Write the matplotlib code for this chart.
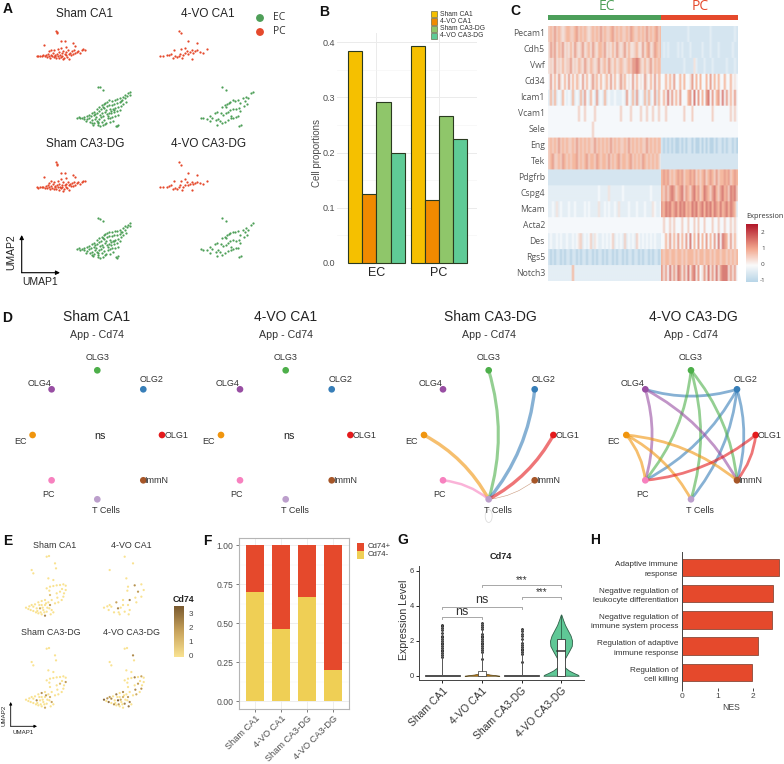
import numpy as np
import matplotlib
matplotlib.use("Agg")
import matplotlib.pyplot as plt
from matplotlib.patches import FancyArrowPatch, Rectangle, Ellipse
from matplotlib.colors import LinearSegmentedColormap

W, H = 784, 764
plt.rcParams["font.family"] = ["Liberation Sans", "DejaVu Sans"]

groups = ["Sham CA1", "4-VO CA1", "Sham CA3-DG", "4-VO CA3-DG"]
red = "#E5492C"
green = "#4C9F5A"
gray_txt = "#4D4D4D"

# A: UMAP points
ec_x = [23.2,23.7,23.9,24.5,25.2,25.3,26.0,26.2,25.9,26.8,26.7,27.0,27.5,27.4,27.7,27.6,28.2,28.1,28.4,28.3,28.0,
        29.0,29.2,28.9,29.1,29.3,29.7,29.6,29.9,29.8,29.5,30.0,30.5,30.4,30.7,30.3,30.6,30.8,31.2,31.1,31.4,31.0,31.3,31.5,
        32.0,32.2,31.9,32.1,32.3,31.8,32.8,32.7,33.0,32.6,32.9,33.1,33.6,33.5,33.8,33.4,33.7,33.9,34.4,34.3,34.6,34.2,34.5,
        35.2,35.1,35.4,35.0,35.3,36.0,35.9,36.2,36.1,36.8,36.7,37.0,37.6,37.5,37.8,38.3,38.2,39.0,38.9,34.7,35.2,35.4,
        28.6,30.9,33.2,31.6,34.1,36.4,29.4,32.4]
ec_y = [4.7,4.9,4.5,4.7,4.3,5.0,5.3,4.2,3.6,5.6,4.6,3.5,6.2,5.1,3.9,3.0,6.5,5.4,4.4,3.1,2.6,
        7.3,6.1,5.0,3.8,2.4,8.0,6.7,5.5,4.3,3.0,2.1,8.4,7.2,6.0,4.8,3.5,2.4,8.9,7.6,6.4,5.2,4.0,2.8,
        9.5,8.2,7.0,5.8,4.5,3.2,9.9,8.6,7.3,6.1,4.7,3.3,9.8,8.5,7.2,6.0,4.9,3.8,10.0,8.8,7.5,6.3,5.1,
        10.2,9.0,7.8,6.6,5.4,10.5,9.3,8.2,7.1,11.0,9.9,8.8,11.5,10.5,9.5,12.0,11.2,12.4,11.6,2.3,2.1,2.6,
        5.9,7.9,6.7,9.2,7.1,9.8,3.4,5.2]
ec_top_x = [29.5,30.0,30.8]
ec_top_y = [14.0,13.8,13.0]
pc_x = [11.0,11.5,12.0,12.6,13.0,13.5,13.8,14.2,14.4,14.8,15.0,15.3,15.6,15.9,16.1,16.4,16.6,16.9,17.1,17.3,17.6,17.8,
        18.0,18.2,18.5,18.7,19.0,19.2,19.4,19.7,19.9,20.2,20.5,20.8,21.0,21.3,21.6,21.9,22.2,22.6,23.0,23.5,24.0,24.5,25.0,25.6,
        15.2,16.2,18.4,19.8,20.6,14.6,17.4,18.9]
pc_y = [23.2,23.1,23.3,23.2,23.4,23.1,23.5,23.0,23.8,23.3,22.7,23.6,23.1,24.2,22.8,23.5,23.2,22.6,23.9,23.3,22.5,24.3,
        23.4,22.9,24.0,23.2,24.8,22.7,23.8,23.4,24.3,22.9,24.9,23.8,24.2,23.5,24.6,23.7,24.9,24.0,24.4,24.7,24.1,24.9,25.2,25.0,
        25.0,24.9,25.6,25.9,22.4,24.6,25.2,22.2]
pc_out_x = [16.8,17.0,17.2,18.3,19.5,13.3,22.0,22.5]
pc_out_y = [30.8,30.3,30.0,27.6,27.6,26.4,27.0,26.3]
a_stride = [1, 2, 1, 2]

# B: cell proportions
b_groups = ["EC", "PC"]
b_ec = [0.385, 0.125, 0.291, 0.199]
b_pc = [0.394, 0.113, 0.267, 0.225]
b_colors = ["#F5C000", "#F08A00", "#8FC66A", "#5FCB96"]

# C: heatmap, one digit per cell column, EC part then PC part
heat_levels = [-1, -0.6, -0.3, 0, 0.2, 0.5, 0.8, 1.2, 1.7, 2.5]
heat_node_colors = ["#B9D4E6", "#D6E6F1", "#E4EEF5", "#F6F9FC", "#F3E2DC", "#F2CFC3", "#F5B9A0", "#E8A08F", "#D97F78", "#B2182B"]
genes = ["Pecam1", "Cdh5", "Vwf", "Cd34", "Icam1", "Vcam1", "Sele", "Eng", "Tek",
         "Pdgfrb", "Cspg4", "Mcam", "Acta2", "Des", "Rgs5", "Notch3"]
heat_ec = ["5657565456 6556756565 4565657565 5675656556 5765565657 5656756",
           "4757465745 4647545745 6475466574 5464754574 6445644746 7457656",
           "4547454645 5745465475 4654574564 7546456545 6577875464 5746565",
           "3736374363 7363643736 3474636346 3736347463 4373634374 3637364",
           "2626232632 3262326273 2632723262 3223222327 3262723262 6237263",
           "3333333333 3333353353 3335333333 3333335333 3533335335 3353353",
           "3333333333 3333333333 3353333333 3333333333 3333333333 3333333",
           "5656575656 5565756565 6557565656 5756565565 7565656557 5656565",
           "5675565765 6566756567 5665765665 7565675665 6756565765 6565652",
           "1111111111 1111111111 1111111111 1111111111 1111111111 1111111",
           "2222222222 2222222222 2222232222 4222222322 2222222222 2322222",
           "2232423222 3223222232 3222242232 3223242222 3222322232 2243223",
           "3333333333 3333333333 3333333333 3333333333 3333333333 3333333",
           "2322323223 2232345232 3524322323 2352323252 3232532323 2323222",
           "1010110101 1011010110 1101011010 1101011010 1101101011 0101101",
           "2222222222 2262222222 2222222222 2222222222 2222222222 2222222"]
heat_pc = ["1111111111 1112111111 1111211111 11111121",
           "1212111121 2111211111 2111211121 11111211",
           "1111111111 1211114211 1211121111 11211121",
           "3363637336 3633473636 3363736363 36336343",
           "3638373637 3336738373 6378373673 83736373",
           "3353333333 3533353333 3333353333 33335353",
           "3333333333 3333333333 3333333333 33333333",
           "1010101001 0101101001 0101001011 01011010",
           "1111111111 1111111111 1111111111 11111111",
           "6767565676 7566767565 6756765756 67675676",
           "6575787567 8576578675 6876578657 86758785",
           "7687867868 7867687867 8687868768 67868762",
           "3533535333 5335335353 3533353353 35335353",
           "3363736373 6373836373 6373637383 87637363",
           "6566566566 5656665656 6566565665 66565656",
           "7473847487 4748478473 4748474847 88847473"]

# D: network, node offsets from panel centre and labels
node_names = ["OLG3", "OLG4", "OLG2", "EC", "OLG1", "PC", "ImmN", "T Cells"]
node_dx = [0, -45.7, 46, -64.7, 64.7, -45.7, 46, 0]
node_dy = [-64.7, -45.7, -45.7, 0, 0, 45.3, 45.3, 64.3]
node_colors = ["#4DAF4A", "#984EA3", "#377EB8", "#F0950E", "#E41A1C", "#F781BF", "#A65628", "#BC9FCC"]
label_dx = [0, -12.3, 8.7, -12.3, 14.3, -3, 13, 9]
label_dy = [-13, -5.3, -10.3, 6.7, 0.3, 14.3, 0, 11.3]
d_centres = [97.3, 285.7, 488.7, 691]
edges_sham_ca3 = [("OLG3", "T Cells", 2.2), ("OLG2", "T Cells", 2.4), ("OLG1", "T Cells", 2.4),
                  ("EC", "T Cells", 2.4), ("PC", "T Cells", 1.8), ("ImmN", "T Cells", 0.4)]
edges_vo_ca3 = [("OLG2", "OLG4", 2.0), ("OLG2", "PC", 2.0), ("OLG2", "T Cells", 2.0), ("OLG2", "ImmN", 2.0),
                ("OLG3", "PC", 2.0), ("OLG3", "T Cells", 2.0), ("OLG3", "ImmN", 2.0),
                ("OLG4", "PC", 2.0), ("OLG4", "ImmN", 2.0),
                ("EC", "PC", 2.0), ("EC", "T Cells", 2.0), ("EC", "ImmN", 2.0),
                ("OLG1", "PC", 2.0), ("OLG1", "ImmN", 2.0)]

# E: Cd74 on UMAP
e_x = [140,147,165,168,95,100,145,160,150,160,170,180,190,197,197,192,190,185,175,165,155,150,148,140,180,170,
       78,85,92,100,108,115,125,135,95,105,115,125,135,145,150,148,140,130,120,110,100,125,135,142,155,160,152,118,128,133,
       88,112,122,138,172,186]
e_y = [95,93,115,130,135,145,160,165,185,183,181,180,178,182,195,205,215,225,232,235,225,210,197,190,200,205,
       248,252,255,258,262,265,268,272,240,238,232,228,225,232,240,250,260,255,250,250,245,240,240,248,255,262,268,240,248,262,
       244,258,262,235,218,192]
e_high = [{40: 2.0, 44: 1.6, 33: 2.4, 21: 1.0},
          {10: 2.2, 20: 2.6, 36: 1.8, 44: 2.5, 24: 2.0},
          {14: 2.0, 37: 2.2, 40: 1.4, 45: 2.4, 33: 1.6, 50: 1.8, 24: 1.2, 59: 2.0},
          {2: 2.4, 10: 2.6, 12: 1.8, 16: 2.2, 18: 1.6, 24: 2.0, 26: 3.2, 28: 3.0, 30: 2.2, 34: 2.0, 36: 2.8,
           38: 2.4, 40: 2.0, 42: 2.6, 44: 3.4, 46: 2.4, 48: 1.4, 50: 2.6, 52: 2.8, 54: 1.6, 56: 2.2, 58: 2.0, 60: 2.4}]
e_stride = [1, 2, 1, 1]
e_ticks = [0, 1, 2, 3]

# F: stacked bars
f_neg = [0.70, 0.46, 0.67, 0.20]
f_pos = [0.30, 0.54, 0.33, 0.80]
f_ticks = [0, 0.25, 0.5, 0.75, 1.0]

# G: violin outlines (level, half width) and outliers
g_colors = ["#D9B000", "#C07810", "#6F9F55", "#5FC896"]
v4_y = [0, 0.05, 0.15, 0.3, 0.45, 0.62, 0.8, 1.0, 1.2, 1.4, 1.7, 2.0, 2.3, 2.6, 2.9, 3.2, 3.5]
v4_w = [0.445, 0.43, 0.33, 0.2, 0.11, 0.07, 0.075, 0.1, 0.15, 0.2, 0.27, 0.28, 0.24, 0.17, 0.1, 0.05, 0.005]
v2_y = [0, 0.03, 0.07, 0.12, 0.2]
v2_w = [0.44, 0.35, 0.2, 0.1, 0.02]
out1 = [1.1, 1.2, 1.3, 1.4, 1.5, 1.6, 1.7, 1.8, 1.9, 2.0, 2.1, 2.2, 2.3, 2.45, 2.6, 2.75, 2.85, 2.9]
out2 = [0.95, 1.35, 1.5, 1.6, 1.7, 1.8, 1.9, 2.0, 2.1, 2.2, 2.3, 2.4, 2.65, 2.8, 2.9, 3.0]
out3 = [0.8, 1.25, 1.35, 1.45, 1.55, 1.65, 1.75, 1.85, 2.1, 2.3, 2.4, 2.55, 2.7]

# H: NES
h_labels = ["Adaptive immune\nresponse", "Negative regulation of\nleukocyte differentiation",
            "Negative regulation of\nimmune system process", "Regulation of adaptive\nimmune response",
            "Regulation of\ncell killing"]
h_nes = [2.745, 2.565, 2.547, 2.15, 1.97]


def px_axes(x0, y0, x1, y1, **kw):
    return fig.add_axes([x0 / W, 1 - y1 / H, (x1 - x0) / W, (y1 - y0) / H], **kw)


fig = plt.figure(figsize=(W / 100, H / 100), dpi=100)

# page axes in pixel units for texts, arrows and the network
page = fig.add_axes([0, 0, 1, 1])
page.set_xlim(0, W)
page.set_ylim(H, 0)
page.axis("off")
page.set_zorder(10)

for s, x, y in [("A", 8, 9), ("B", 324, 12), ("C", 515, 11), ("D", 7, 318),
                ("E", 8, 541), ("F", 207, 541), ("G", 403, 540), ("H", 595, 540)]:
    page.text(x, y, s, fontsize=10, fontweight="bold", ha="center", va="center", color="#111111")


def umap_arrows(x, y, xe, ye, lw, ms):
    page.annotate("", xy=(xe, y), xytext=(x, y), arrowprops=dict(arrowstyle="-|>", lw=lw, color="black", mutation_scale=ms, shrinkA=0, shrinkB=0))
    page.annotate("", xy=(x, ye), xytext=(x, y), arrowprops=dict(arrowstyle="-|>", lw=lw, color="black", mutation_scale=ms, shrinkA=0, shrinkB=0))


# A
for i, g in enumerate(groups):
    col, row = i % 2, i // 2
    ox, oy = 123.3 * col, 131.3 * row
    ax = px_axes(30 + ox, 23.3 + oy, 136.7 + ox, 133.3 + oy)
    ax.set_xlim(9, 41)
    ax.set_ylim(0, 33)
    ax.axis("off")
    st = a_stride[i]
    ax.scatter(pc_x[::st], pc_y[::st], s=2.6, color=red, lw=0)
    ax.scatter(pc_out_x[::st], pc_out_y[::st], s=2.6, color=red, lw=0)
    ax.scatter(ec_x[::st], ec_y[::st], s=2.6, color="#4E9F58", lw=0)
    ax.scatter(ec_top_x[::st], ec_top_y[::st], s=2.6, color="#4E9F58", lw=0)
    page.text(85 + ox, 14 + 130 * row, g, fontsize=8.5, ha="center", va="center", color="#222222")
page.scatter([260, 260], [18, 32], s=32, color=["#4E9F58", red], lw=0)
page.text(273, 18, "EC", fontsize=7.5, family="Open Sans", va="center", color="#333333")
page.text(273, 32, "PC", fontsize=7.5, family="Open Sans", va="center", color="#333333")
umap_arrows(21.7, 272.7, 60, 235, 0.8, 6)
page.text(11.5, 252, "UMAP2", fontsize=7.5, rotation=90, ha="center", va="center", color="#222222")
page.text(40, 282, "UMAP1", fontsize=7.5, ha="center", va="center", color="#222222")

# B
ax = px_axes(336.7, 33, 476.7, 262.7)
ax.set_xlim(0.365, 2.6)
ax.set_ylim(0, 0.417)
bw = 0.225
ax.set_yticks([0, 0.1, 0.2, 0.3, 0.4])
ax.set_yticks([0.05, 0.15, 0.25, 0.35], minor=True)
ax.set_xticks([1, 2])
ax.grid(True, which="major", color="#EBEBEB", lw=0.7)
ax.grid(True, which="minor", axis="y", color="#F3F3F3", lw=0.4)
ax.set_axisbelow(True)
for j, c in enumerate(b_colors):
    ax.bar([1 + (j - 1.5) * bw, 2 + (j - 1.5) * bw], [b_ec[j], b_pc[j]], width=bw, color=c,
           edgecolor="#2A3A20", lw=0.8, clip_on=False)
for sp in ax.spines.values():
    sp.set_visible(False)
ax.tick_params(axis="both", which="both", length=0)
ax.set_xticklabels(b_groups, fontsize=9, color="#222222")
ax.tick_params(axis="x", pad=3)
ax.tick_params(axis="y", labelsize=6.5, labelcolor=gray_txt, pad=1)
ax.set_yticklabels(["0.0", "0.1", "0.2", "0.3", "0.4"])
page.text(317.5, 153, "Cell proportions", fontsize=7, rotation=90, ha="center", va="center", color=gray_txt)
for j, g in enumerate(groups):
    yy = 14 + j * 7.3
    page.add_patch(Rectangle((431.5, yy - 3.1), 6, 6.6, facecolor=b_colors[j], edgecolor="#555533", lw=0.4))
    page.text(440.5, yy, g, fontsize=4.9, va="center", color="#333333")

# C
heat_cmap = LinearSegmentedColormap.from_list(
    "heat", [((v + 1) / 3.5, c) for v, c in zip(heat_levels, heat_node_colors)])
def decode(rows):
    # rows stretched so the soft resampling only acts along the cell axis
    arr = np.array([[heat_levels[int(ch)] for ch in r.replace(" ", "")] for r in rows])
    return np.repeat(arr, 16, axis=0)
ax = px_axes(547.7, 26, 661.3, 281)
ax.imshow(decode(heat_ec), aspect="auto", cmap=heat_cmap, vmin=-1, vmax=2.5, interpolation="bilinear")
ax.axis("off")
ax = px_axes(661.3, 26, 737.7, 281)
ax.imshow(decode(heat_pc), aspect="auto", cmap=heat_cmap, vmin=-1, vmax=2.5, interpolation="bilinear")
ax.axis("off")
page.add_patch(Rectangle((547.7, 15), 113.6, 5, facecolor=green, lw=0))
page.add_patch(Rectangle((661.3, 15), 76.4, 5, facecolor=red, lw=0))
page.text(606.5, 6, "EC", fontsize=10, family="Open Sans", color="#4E9F58", ha="center", va="center")
page.text(700.5, 6, "PC", fontsize=10, family="Open Sans", color=red, ha="center", va="center")
for i, g in enumerate(genes):
    page.text(545, 26 + (i + 0.5) * 15.94, g, fontsize=6.2, family="Open Sans", color="#555555", ha="right", va="center")
cb_cmap = LinearSegmentedColormap.from_list("cb", [(0, "#B9D6E8"), (0.2857, "#FAFAFA"), (0.5714, "#F3A88F"), (1, "#B2182B")])
cb = px_axes(746, 224, 758, 282)
cb.imshow(np.linspace(2.5, -1, 100).reshape(-1, 1), aspect="auto", cmap=cb_cmap, vmin=-1, vmax=2.5)
cb.axis("off")
page.text(746, 216.5, "Expression", fontsize=5.3, family="Open Sans", color="#333333", va="center")
for v, y in [("2", 232), ("1", 248), ("0", 264), ("-1", 280)]:
    page.text(763, y, v, fontsize=4.6, family="Open Sans", color="#444444", ha="center", va="center")

# D
pos_index = {n: i for i, n in enumerate(node_names)}
cy = 435
for k, cx in enumerate(d_centres):
    page.text(cx - 0.3 if k < 2 else cx + 2, 317, groups[k], fontsize=10, ha="center", va="center", color="#222222")
    page.text(cx, 335.5, "App - Cd74", fontsize=7.7, ha="center", va="center", color="#333333")
    edges = {2: edges_sham_ca3, 3: edges_vo_ca3}.get(k, [])
    for a, b, lw in edges:
        ia, ib = pos_index[a], pos_index[b]
        page.add_patch(FancyArrowPatch((cx + node_dx[ia], cy + node_dy[ia]), (cx + node_dx[ib], cy + node_dy[ib]),
                                       connectionstyle="arc3,rad=-0.15", arrowstyle="-", lw=lw,
                                       color=node_colors[ia], alpha=0.6, shrinkA=0, shrinkB=0))
    if k < 2:
        page.text(cx + 3, 436, "ns", fontsize=7.7, ha="center", va="center", color="#222222")
    if k == 2:
        page.add_patch(Ellipse((cx, cy + 81), 7, 13, fill=False, edgecolor="#DDDDDD", lw=0.6))
    page.scatter([cx + d for d in node_dx], [cy + d for d in node_dy], s=23, c=node_colors, lw=0, zorder=3)
    for n, i in pos_index.items():
        page.text(cx + node_dx[i] + label_dx[i], cy + node_dy[i] + label_dy[i], n, fontsize=6.5,
                  ha="center", va="center", color="#333333", zorder=4)

# E
e_cmap = LinearSegmentedColormap.from_list("cd74", ["#F9E291", "#C9A45C", "#7A5A30"])
for i, g in enumerate(groups):
    col, row = i % 2, i // 2
    ox, oy = 78 * col, 92 * row
    ax = px_axes(20 + ox, 551.7 + oy, 71.7 + ox, 620 + oy)
    ax.set_xlim(60, 215)
    ax.set_ylim(285, 80)
    ax.axis("off")
    st = e_stride[i]
    vals = np.zeros(len(e_x))
    for idx, v in e_high[i].items():
        vals[idx] = v
    keep = sorted(set(range(0, len(e_x), st)) | set(e_high[i].keys()))
    o = sorted(keep, key=lambda q: vals[q])
    ax.scatter(np.array(e_x)[o], np.array(e_y)[o], c=vals[o], s=2.6, cmap=e_cmap, vmin=0, vmax=3.6, lw=0)
e_titles = [(55, 545.7), (131.7, 545.7), (51.3, 632.7), (132, 632.7)]
for g, (x, y) in zip(groups, e_titles):
    page.text(x, y, g, fontsize=6.4, ha="center", va="center", color="#333333")
cb = px_axes(174.3, 606, 184.3, 656.7)
cb.imshow(np.linspace(3.6, 0, 100).reshape(-1, 1), aspect="auto", cmap=e_cmap, vmin=0, vmax=3.6)
cb.axis("off")
page.text(183, 600, "Cd74", fontsize=6.4, fontweight="bold", ha="center", va="center", color="#222222")
for v in e_ticks:
    page.text(191, 656.7 - v * 14.1, str(v), fontsize=5.8, ha="center", va="center", color="#444444")
umap_arrows(10.7, 726.3, 37, 702, 0.6, 4)
page.text(23, 733, "UMAP1", fontsize=4.4, ha="center", va="center", color="#222222")
page.text(4.3, 715, "UMAP2", fontsize=4.4, rotation=90, ha="center", va="center", color="#222222")

# F
ax = px_axes(239.3, 538.3, 349, 709)
ax.set_xlim(0.4, 4.6)
ax.set_ylim(-0.05, 1.045)
xf = np.arange(1, 5)
ax.bar(xf, f_neg, width=0.7, color="#EFCF55")
ax.bar(xf, f_pos, bottom=f_neg, width=0.7, color=red)
ax.set_yticks(f_ticks)
ax.set_yticklabels(["0.00", "0.25", "0.50", "0.75", "1.00"])
ax.set_yticks([0.125, 0.375, 0.625, 0.875], minor=True)
ax.grid(True, which="major", color="#EBEBEB", lw=0.6)
ax.grid(True, which="minor", axis="y", color="#F3F3F3", lw=0.3)
ax.set_axisbelow(True)
ax.set_xticks(xf)
ax.set_xticklabels(groups, rotation=45, ha="right", rotation_mode="anchor", fontsize=6.6, color=gray_txt)
ax.tick_params(axis="y", which="major", labelsize=6.2, labelcolor=gray_txt, color="#666666", length=2.5, width=0.6, pad=1.5)
ax.tick_params(axis="y", which="minor", length=0)
ax.tick_params(axis="x", color="#666666", length=2.5, width=0.6, pad=1)
for sp in ax.spines.values():
    sp.set_color("#B5B5B5")
    sp.set_linewidth(0.8)
page.add_patch(Rectangle((356.7, 543.3), 7, 7.6, facecolor=red, lw=0))
page.add_patch(Rectangle((356.7, 551), 7, 7.6, facecolor="#EFCF55", lw=0))
page.text(368, 547, "Cd74+", fontsize=5.6, va="center", color="#333333")
page.text(368, 555, "Cd74-", fontsize=5.6, va="center", color="#333333")

# G
ax = px_axes(418.7, 565.7, 584, 680.3)
ax.set_xlim(0.4, 4.58)
ax.set_ylim(-0.26, 6.29)
ax.fill_betweenx([0, 0.02], 1 - 0.44, 1 + 0.44, color="#333333", lw=0.5)
ax.plot([1, 1], [0, 2.9], color="#555555", lw=0.7)
ax.scatter([1] * len(out1), out1, s=4, color="#222222", lw=0)
ax.fill_betweenx(v2_y, 2 - np.array(v2_w), 2 + np.array(v2_w), facecolor=g_colors[1], edgecolor="#5A4A20", lw=0.5)
ax.plot([2, 2], [0, 3.0], color="#555555", lw=0.7)
ax.scatter([2] * len(out2), out2, s=4, color="#222222", lw=0)
ax.add_patch(Rectangle((1.89, 0), 0.22, 0.25, facecolor="white", edgecolor="#333333", lw=0.5, zorder=3))
ax.fill_betweenx([0, 0.02], 3 - 0.44, 3 + 0.44, color="#333333", lw=0.5)
ax.plot([3, 3], [0, 2.7], color="#555555", lw=0.7)
ax.scatter([3] * len(out3), out3, s=4, color="#222222", lw=0)
ax.fill_betweenx(v4_y, 4 - np.array(v4_w), 4 + np.array(v4_w), facecolor=g_colors[3], edgecolor="#2F5F48", lw=0.6)
ax.plot([4, 4], [0, 3.5], color="#2F5F48", lw=0.6)
ax.add_patch(Rectangle((3.9, 0), 0.2, 2.1, facecolor="white", edgecolor="#333333", lw=0.6, zorder=3))
ax.plot([3.9, 4.1], [1.4, 1.4], color="#333333", lw=1.1, zorder=4)
ax.set_xticks([1, 2, 3, 4])
ax.set_xticklabels(groups, rotation=45, ha="right", rotation_mode="anchor", fontsize=7.5, color="#333333")
ax.set_yticks([0, 2, 4, 6])
ax.tick_params(axis="y", labelsize=5.4, labelcolor="#333333", length=2, width=0.6, pad=1.5)
ax.tick_params(axis="x", length=2, width=0.6, pad=2)
ax.spines[["top", "right"]].set_visible(False)
for s in ["left", "bottom"]:
    ax.spines[s].set_linewidth(0.7)
    ax.spines[s].set_color("#444444")
page.text(501.3, 556.5, "Cd74", fontsize=6.6, fontweight="bold", ha="center", va="center", color="#222222")
page.text(404.5, 620, "Expression Level", fontsize=7.6, rotation=90, ha="center", va="center", color="#333333")
brackets = [(1, 2, 3.38, "ns", 9, 3.65), (1, 3, 3.93, "ns", 9, 4.35), (3, 4, 4.52, "***", 7, 4.78), (2, 4, 5.18, "***", 7, 5.45)]
for a, b, y, t, fs, ty in brackets:
    ax.plot([a, a, b, b], [y - 0.12, y, y, y - 0.12], color="#999999", lw=0.6)
    ax.text((a + b) / 2, ty, t, fontsize=fs, ha="center", va="center", color="#333333")

# H
ax = px_axes(682.3, 552.3, 781, 688.3)
ax.set_xlim(0, 2.796)
ax.set_ylim(4.6, -0.57)
ax.barh(range(5), h_nes, height=0.665, color=red, edgecolor="#8A4A3A", lw=0.6)
ax.set_yticks(range(5))
ax.set_yticklabels(h_labels, fontsize=5.85, color="#333333", linespacing=1.5)
ax.set_xticks([0, 1, 2])
ax.tick_params(axis="x", labelsize=6, labelcolor="#444444", length=2, width=0.5, pad=1.5)
ax.tick_params(axis="y", length=0, pad=3)
ax.spines[["top", "right", "bottom"]].set_visible(False)
ax.spines["left"].set_color("#444444")
ax.spines["left"].set_linewidth(0.7)
page.text(731.5, 707, "NES", fontsize=6.2, ha="center", va="center", color="#444444")

fig.savefig("out.png", dpi=100)
